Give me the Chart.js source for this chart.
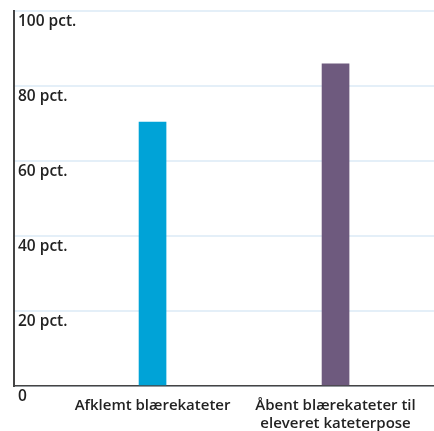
<!DOCTYPE html>
<html>
<head>
<meta charset="utf-8">
<script src="https://cdn.jsdelivr.net/npm/chart.js@4"></script>
<style>
  html, body { margin: 0; padding: 0; background: #fff; }
  #wrap { width: 434px; height: 431px; position: relative; }
</style>
</head>
<body>
<div id="wrap"><canvas id="c"></canvas></div>
<script>
// Andel (pct.) for hver metode
const categories = [
  ["Afklemt blærekateter"],
  ["Åbent blærekateter til", "eleveret kateterpose"]
];
const values = [70.4, 85.9];
const barColors = ["#00a3d7", "#6e5a7e"];
const yTickValues = [0, 20, 40, 60, 80, 100];

const FONT = "'Open Sans', sans-serif";
const TEXT = "#222222";

new Chart(document.getElementById("c"), {
  type: "bar",
  data: {
    datasets: [{
      data: values.map((v, i) => ({ x: i, y: v })),
      backgroundColor: barColors,
      barThickness: 27,
      borderWidth: 0
    }]
  },
  options: {
    responsive: true,
    maintainAspectRatio: false,
    animation: false,
    layout: { padding: { left: 6, right: 0, top: 11, bottom: 0 } },
    plugins: { legend: { display: false }, tooltip: { enabled: false } },
    scales: {
      x: {
        type: "linear",
        offset: false,
        min: -0.757,
        max: 1.538,
        afterBuildTicks: (axis) => { axis.ticks = categories.map((_, i) => ({ value: i })); },
        afterFit: (axis) => { axis.height = 45; },
        grid: { display: false, drawTicks: false, offset: false },
        border: { display: true, color: "#444", width: 1.5 },
        ticks: {
          color: TEXT,
          padding: 11,
          maxRotation: 0,
          autoSkip: false,
          font: { family: FONT, size: 15, weight: 600, lineHeight: 1.18 },
          callback: (v) => categories[v]
        }
      },
      y: {
        min: 0,
        max: 100,
        afterBuildTicks: (axis) => { axis.ticks = yTickValues.map(v => ({ value: v })); },
        afterFit: (axis) => { axis.paddingTop = 0; axis.paddingBottom = 0; },
        grid: { color: "#e4eff8", lineWidth: 2, drawTicks: false },
        border: { display: true, color: "#444", width: 2 },
        ticks: {
          mirror: true,
          padding: 4,
          labelOffset: 11,
          color: TEXT,
          font: { family: FONT, size: 15.5, weight: 600 },
          callback: (v) => v === 0 ? "0" : v + " pct."
        }
      }
    }
  }
});
</script>
</body>
</html>
